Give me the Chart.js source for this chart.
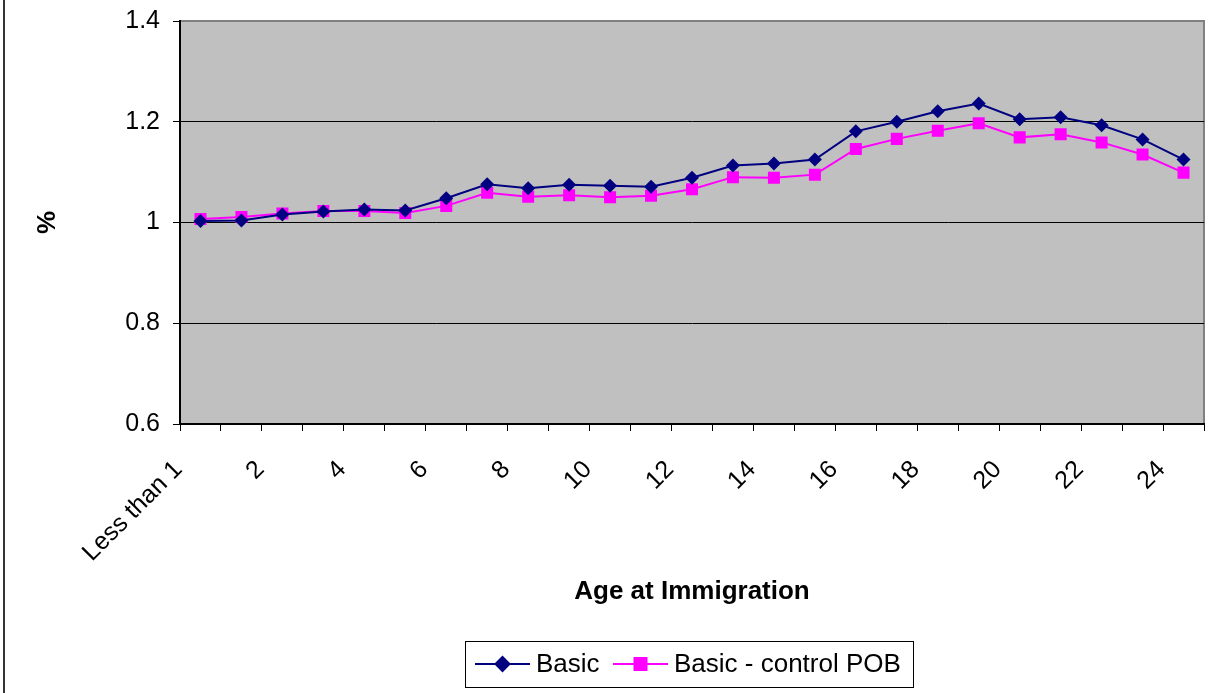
<!DOCTYPE html>
<html>
<head>
<meta charset="utf-8">
<script src="https://cdn.jsdelivr.net/npm/chart.js@4/dist/chart.umd.min.js"></script>
<style>
html,body{margin:0;padding:0;background:#fff;}
#box{width:1218px;height:693px;position:relative;}
</style>
</head>
<body>
<div id="box"><canvas id="myChart"></canvas></div>
<script>
// age at immigration categories
let ages=["Less than 1","1","2","3","4","5","6","7","8","9","10","11","12","13","14","15","16","17","18","19","20","21","22","23","24"];
let basic=[1.003,1.004,1.016,1.022,1.026,1.024,1.048,1.076,1.068,1.075,1.073,1.071,1.089,1.113,1.117,1.125,1.181,1.200,1.221,1.236,1.205,1.209,1.193,1.165,1.125];
let basicPob=[1.007,1.011,1.018,1.023,1.023,1.019,1.033,1.059,1.051,1.054,1.050,1.053,1.066,1.090,1.089,1.095,1.146,1.166,1.182,1.197,1.169,1.175,1.159,1.135,1.099];
let yTicks=[0.6,0.8,1,1.2,1.4];

const fam="'Liberation Sans', Arial, sans-serif";

// grey plot area + frame line on the left
const plotBack={
    id:'plotBack',
    beforeDraw(chart){
        const ctx=chart.ctx, a=chart.chartArea;
        ctx.save();
        ctx.fillStyle='#C0C0C0';
        ctx.fillRect(a.left,a.top,a.right-a.left,a.bottom-a.top);
        ctx.strokeStyle='#808080';
        ctx.lineWidth=2;
        ctx.beginPath();
        ctx.moveTo(a.left,a.top);
        ctx.lineTo(a.right,a.top);
        ctx.lineTo(a.right,a.bottom);
        ctx.stroke();
        ctx.strokeStyle='#333';
        ctx.lineWidth=2;
        ctx.beginPath();
        ctx.moveTo(4,0);
        ctx.lineTo(4,693);
        ctx.stroke();
        ctx.restore();
    }
};

// legend with line + marker like the original
const lineLegend={
    id:'lineLegend',
    afterDraw(chart){
        const ctx=chart.ctx;
        ctx.save();
        ctx.strokeStyle='#000';
        ctx.lineWidth=1;
        ctx.strokeRect(465.5,641.5,448,46);
        ctx.font='26px '+fam;
        ctx.textBaseline='middle';
        ctx.fillStyle='#000';
        const y=664;
        const items=[[475,530,chart.data.datasets[0]],[613,668,chart.data.datasets[1]]];
        items.forEach(function(it){
            const ds=it[2];
            ctx.strokeStyle=ds.borderColor;
            ctx.lineWidth=2;
            ctx.beginPath();
            ctx.moveTo(it[0],y);
            ctx.lineTo(it[1],y);
            ctx.stroke();
            Chart.helpers.drawPoint(ctx,{pointStyle:ds.pointStyle,radius:ds.pointRadius,borderWidth:1},(it[0]+it[1])/2,y);
            ctx.fillStyle=ds.backgroundColor;
            ctx.fill();
            ctx.fillStyle='#000';
            ctx.fillText(ds.label,it[1]+6,y+1);
        });
        ctx.restore();
    }
};

const ctx=document.getElementById('myChart').getContext('2d');
const myChart=new Chart(ctx,{
    type:'line',
    data:{
        labels:ages,
        datasets:[{
            label:'Basic',
            data:basic,
            borderColor:'#000080',
            backgroundColor:'#000080',
            borderWidth:2,
            pointStyle:'rectRot',
            pointRadius:7,
            pointBorderWidth:0,
            tension:0
        },{
            label:'Basic - control POB',
            data:basicPob,
            borderColor:'#FF00FF',
            backgroundColor:'#FF00FF',
            borderWidth:2,
            pointStyle:'rect',
            pointRadius:8.5,
            pointBorderWidth:0,
            tension:0
        }]
    },
    options:{
        responsive:true,
        maintainAspectRatio:false,
        animation:false,
        layout:{padding:{top:21,right:14,bottom:83,left:0}},
        plugins:{legend:{display:false},tooltip:{enabled:false}},
        scales:{
            x:{
                offset:true,
                grid:{offset:true,drawOnChartArea:false,color:'#000',tickLength:7},
                border:{color:'#000',width:2},
                ticks:{
                    autoSkip:false,minRotation:45,maxRotation:45,
                    padding:24,labelOffset:-22,color:'#000',
                    font:{family:fam,size:25},
                    callback:function(v,i){return i%2===0?ages[i]:'';}
                },
                title:{display:true,text:'Age at Immigration',color:'#000',
                    font:{family:fam,size:26,weight:'bold'},padding:{top:0,bottom:3}},
                afterFit:function(s){s.height=186;s.paddingLeft=0;s.paddingRight=0;}
            },
            y:{
                min:yTicks[0],max:yTicks[yTicks.length-1],
                ticks:{stepSize:0.2,padding:13,color:'#000',font:{family:fam,size:25},
                    callback:function(v){return String(+v.toFixed(1));}},
                grid:{
                    color:function(c){return c.tick && c.tick.value===yTicks[yTicks.length-1]?'rgba(0,0,0,0)':'#000';},
                    tickColor:'#000',tickLength:7,lineWidth:1
                },
                border:{color:'#000',width:2},
                title:{display:true,text:'%',color:'#000',
                    font:{family:fam,size:26,weight:'bold'},padding:{top:32,bottom:0}},
                afterFit:function(s){s.width=180;s.paddingTop=0;s.paddingBottom=0;}
            }
        }
    },
    plugins:[plotBack,lineLegend]
});
</script>
</body>
</html>
